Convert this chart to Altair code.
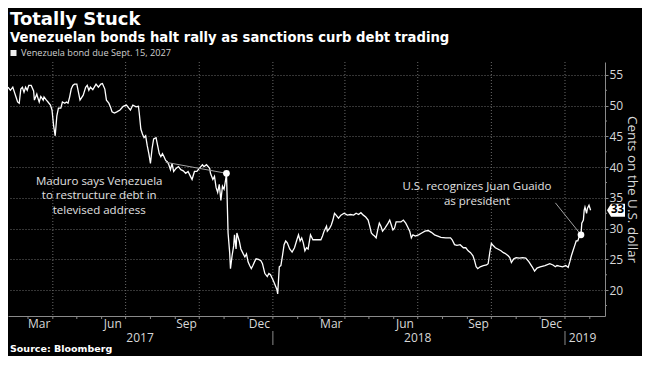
import altair as alt
import pandas as pd

# ---------------- data ----------------
dates = [
    "2017-02-04", "2017-02-07", "2017-02-10", "2017-02-12", "2017-02-14", "2017-02-16", "2017-02-18",
    "2017-02-20", "2017-02-22", "2017-02-24", "2017-02-26", "2017-02-28", "2017-03-02", "2017-03-05",
    "2017-03-08", "2017-03-09", "2017-03-12", "2017-03-13", "2017-03-15", "2017-03-17", "2017-03-20",
    "2017-03-21", "2017-03-24", "2017-03-26", "2017-03-29", "2017-03-31", "2017-04-02", "2017-04-04",
    "2017-04-06", "2017-04-08", "2017-04-11", "2017-04-13", "2017-04-16", "2017-04-18", "2017-04-20",
    "2017-04-22", "2017-04-24", "2017-04-26", "2017-04-28", "2017-05-01", "2017-05-03", "2017-05-05",
    "2017-05-07", "2017-05-09", "2017-05-12", "2017-05-14", "2017-05-16", "2017-05-18", "2017-05-21",
    "2017-05-25", "2017-05-28", "2017-05-31", "2017-06-02", "2017-06-05", "2017-06-07", "2017-06-10",
    "2017-06-12", "2017-06-14", "2017-06-17", "2017-06-20", "2017-06-24", "2017-06-28", "2017-07-02",
    "2017-07-05", "2017-07-07", "2017-07-10", "2017-07-14", "2017-07-17", "2017-07-18", "2017-07-20",
    "2017-07-22", "2017-07-24", "2017-07-26", "2017-07-28", "2017-07-30", "2017-08-01", "2017-08-03",
    "2017-08-05", "2017-08-08", "2017-08-10", "2017-08-12", "2017-08-14", "2017-08-16", "2017-08-18",
    "2017-08-20", "2017-08-22", "2017-08-24", "2017-08-26", "2017-08-28", "2017-08-30", "2017-09-02",
    "2017-09-05", "2017-09-08", "2017-09-11", "2017-09-14", "2017-09-17", "2017-09-20", "2017-09-22",
    "2017-09-25", "2017-09-28", "2017-10-01", "2017-10-05", "2017-10-07", "2017-10-10", "2017-10-14",
    "2017-10-15", "2017-10-18", "2017-10-20", "2017-10-22", "2017-10-24", "2017-10-26", "2017-10-28",
    "2017-10-30", "2017-11-01", "2017-11-03", "2017-11-04", "2017-11-06", "2017-11-08", "2017-11-09",
    "2017-11-11", "2017-11-13", "2017-11-14", "2017-11-16", "2017-11-17", "2017-11-20", "2017-11-22",
    "2017-11-25", "2017-11-27", "2017-11-29", "2017-12-01", "2017-12-03", "2017-12-05", "2017-12-07",
    "2017-12-09", "2017-12-11", "2017-12-14", "2017-12-17", "2017-12-19", "2017-12-22", "2017-12-25",
    "2017-12-27", "2017-12-29", "2018-01-01", "2018-01-03", "2018-01-06", "2018-01-07", "2018-01-09",
    "2018-01-11", "2018-01-13", "2018-01-15", "2018-01-17", "2018-01-19", "2018-01-22", "2018-01-25",
    "2018-01-28", "2018-01-31", "2018-02-02", "2018-02-04", "2018-02-06", "2018-02-08", "2018-02-10",
    "2018-02-12", "2018-02-14", "2018-02-17", "2018-02-20", "2018-02-22", "2018-02-26", "2018-03-02",
    "2018-03-04", "2018-03-06", "2018-03-09", "2018-03-10", "2018-03-13", "2018-03-15", "2018-03-17",
    "2018-03-19", "2018-03-21", "2018-03-24", "2018-03-27", "2018-03-31", "2018-04-04", "2018-04-08",
    "2018-04-12", "2018-04-15", "2018-04-18", "2018-04-21", "2018-04-24", "2018-04-27", "2018-04-30",
    "2018-05-02", "2018-05-04", "2018-05-06", "2018-05-08", "2018-05-10", "2018-05-12", "2018-05-14",
    "2018-05-16", "2018-05-18", "2018-05-21", "2018-05-25", "2018-05-27", "2018-05-29", "2018-05-31",
    "2018-06-02", "2018-06-04", "2018-06-06", "2018-06-10", "2018-06-13", "2018-06-16", "2018-06-18",
    "2018-06-21", "2018-06-23", "2018-06-25", "2018-06-28", "2018-07-02", "2018-07-06", "2018-07-10",
    "2018-07-14", "2018-07-18", "2018-07-22", "2018-07-26", "2018-07-30", "2018-08-05", "2018-08-11",
    "2018-08-13", "2018-08-16", "2018-08-19", "2018-08-23", "2018-08-27", "2018-08-30", "2018-09-02",
    "2018-09-05", "2018-09-08", "2018-09-10", "2018-09-12", "2018-09-14", "2018-09-17", "2018-09-21",
    "2018-09-25", "2018-09-27", "2018-09-29", "2018-10-01", "2018-10-03", "2018-10-06", "2018-10-09",
    "2018-10-13", "2018-10-16", "2018-10-18", "2018-10-22", "2018-10-24", "2018-10-26", "2018-10-29",
    "2018-11-01", "2018-11-05", "2018-11-09", "2018-11-13", "2018-11-17", "2018-11-21", "2018-11-24",
    "2018-11-27", "2018-12-01", "2018-12-07", "2018-12-13", "2018-12-17", "2018-12-20", "2018-12-22",
    "2018-12-25", "2018-12-29", "2019-01-02", "2019-01-05", "2019-01-07", "2019-01-09", "2019-01-11",
    "2019-01-13", "2019-01-15", "2019-01-17", "2019-01-19", "2019-01-21", "2019-01-22", "2019-01-24",
    "2019-01-25", "2019-01-26", "2019-01-28", "2019-01-29", "2019-01-31", "2019-02-02",
]
values = [
    53.0, 52.5, 53.0, 52.2, 51.4, 50.6, 50.4,
    52.7, 53.0, 52.2, 53.0, 52.5, 53.3, 53.3,
    52.4, 50.9, 51.9, 51.4, 50.6, 51.5, 50.9,
    51.4, 50.9, 50.6, 50.1, 49.3, 46.7, 45.1,
    48.3, 49.6, 49.6, 50.6, 50.4, 50.6, 50.4,
    51.4, 52.7, 53.3, 53.5, 53.5, 52.2, 50.9,
    51.3, 51.7, 53.0, 53.3, 52.5, 53.0, 52.6,
    53.5, 53.0, 53.5, 53.6, 52.7, 50.9, 50.4,
    49.8, 49.0, 48.8, 49.0, 49.3, 49.9, 50.1,
    49.6, 49.3, 50.1, 49.8, 49.9, 48.8, 46.2,
    45.4, 44.8, 45.1, 43.5, 42.2, 40.6, 43.0,
    44.6, 44.8, 43.5, 42.2, 41.7, 42.2, 41.7,
    41.1, 40.9, 40.4, 39.6, 40.6, 39.3, 39.8,
    40.1, 39.6, 39.4, 39.0, 39.3, 38.5, 38.0,
    39.3, 39.3, 39.8, 40.4, 40.1, 40.4, 39.8,
    39.0, 38.0, 38.5, 36.7, 35.9, 37.2, 34.6,
    36.9, 36.4, 38.0, 39.0, 29.3, 26.1, 23.5,
    25.6, 27.2, 29.0, 26.7, 29.3, 28.0, 26.7,
    25.9, 25.4, 25.9, 24.6, 24.0, 23.5, 24.0,
    24.6, 25.1, 25.0, 24.8, 24.3, 22.7, 22.2,
    22.7, 22.5, 21.7, 21.1, 20.1, 19.4, 23.8,
    24.0, 25.6, 27.4, 28.0, 27.7, 26.7, 26.2,
    26.9, 28.2, 29.0, 28.0, 28.5, 27.7, 26.4,
    26.9, 26.7, 29.0, 28.2, 28.2, 28.2, 28.2,
    28.8, 29.6, 30.4, 29.6, 30.1, 30.6, 31.4,
    32.5, 32.2, 31.7, 32.2, 32.5, 32.2, 32.3,
    32.2, 32.5, 32.3, 32.6, 32.2, 31.9, 31.4,
    30.4, 29.3, 29.0, 28.8, 28.5, 29.8, 30.9,
    30.4, 29.6, 30.1, 30.9, 31.4, 30.6, 29.8,
    30.1, 31.1, 31.1, 31.1, 31.4, 30.9, 30.4,
    29.6, 28.5, 29.0, 28.8, 29.0, 29.3, 29.6,
    29.7, 29.4, 29.0, 28.8, 28.6, 28.5, 28.5,
    28.2, 27.4, 27.3, 27.4, 26.9, 26.9, 26.4,
    26.1, 25.6, 24.8, 23.8, 23.5, 23.8, 24.0,
    24.1, 24.3, 26.1, 27.6, 27.3, 26.9, 26.7,
    26.4, 26.1, 26.0, 25.6, 25.3, 24.5, 25.1,
    25.3, 25.2, 25.3, 25.2, 24.6, 23.8, 23.1,
    23.6, 23.8, 24.0, 24.3, 24.1, 23.8, 24.0,
    23.9, 23.8, 24.0, 23.7, 24.6, 25.6, 26.4,
    27.2, 28.0, 28.0, 28.8, 29.0, 30.9, 31.4,
    33.0, 33.5, 32.5, 33.3, 33.8, 33.0,
]

series_label = "Venezuela bond due Sept. 15, 2027"
title_text = "Totally Stuck"
subtitle_text = "Venezuelan bonds halt rally as sanctions curb debt trading"
source_text = "Source: Bloomberg"
y_title = "Cents on the U.S. dollar"

event_dates = ["2017-11-04", "2019-01-21"]
event_values = [39.0, 29.0]
note_texts = ["Maduro says Venezuela\nto restructure debt in\ntelevised address",
              "U.S. recognizes Juan Guaido\nas president"]
note_dates = ["2017-05-29", "2018-09-13"]
note_values = [37.6, 36.7]
leader_dates = ["2017-08-20", "2018-12-20"]
leader_values = [40.8, 34.2]

month_labels = ["Mar", "Jun", "Sep", "Dec", "Mar", "Jun", "Sep", "Dec"]
month_label_dates = ["2017-03-15", "2017-06-15", "2017-09-15", "2017-12-15",
                     "2018-03-15", "2018-06-15", "2018-09-15", "2018-12-15"]
quarter_starts = ["2017-04-01", "2017-07-01", "2017-10-01", "2018-01-01",
                  "2018-04-01", "2018-07-01", "2018-10-01", "2019-01-01"]
month_starts = ["2017-03-01", "2017-04-01", "2017-05-01", "2017-06-01", "2017-07-01", "2017-08-01",
                "2017-09-01", "2017-10-01", "2017-11-01", "2017-12-01", "2018-01-01", "2018-02-01",
                "2018-03-01", "2018-04-01", "2018-05-01", "2018-06-01", "2018-07-01", "2018-08-01",
                "2018-09-01", "2018-10-01", "2018-11-01", "2018-12-01", "2019-01-01", "2019-02-01"]
year_labels = ["2017", "2018", "2019"]
year_label_dates = ["2017-07-19", "2018-07-01", "2019-01-23"]
year_breaks = ["2018-01-01", "2019-01-01"]

y_major = [20, 25, 30, 35, 40, 45, 50, 55]
y_minor = [17.5, 22.5, 27.5, 32.5, 37.5, 42.5, 47.5, 52.5]

# ---------------- layout / style ----------------
W, H = 597, 254
BODY = "Open Sans"
BOLD = "DejaVu Sans"
AXC = "#8a8a8a"
LAB = "#d8d8d8"
GRID = "#6a6a6a"

x_scale = alt.Scale(domain=[alt.DateTime(year=2017, month=2, date=4),
                            alt.DateTime(year=2019, month=2, date=20)], nice=False)
y_scale = alt.Scale(domain=[15.8, 57.1], nice=False, zero=False)

x_axis = alt.Axis(grid=False, ticks=False, labels=False, domain=True,
                  domainColor=AXC, title=None)
y_axis = alt.Axis(
    orient="right", values=y_major,
    labelFont=BODY, labelFontSize=12, labelColor=LAB, labelPadding=1,
    tickSize=3, tickColor=AXC, domainColor=AXC,
    grid=True, gridColor=GRID, gridDash=[1, 2],
    title=y_title, titleAngle=90, titleFont=BODY, titleFontSize=13.5,
    titleFontWeight="normal", titleColor=LAB, titlePadding=2,
)


def T(lst):
    return pd.to_datetime(lst)


df = pd.DataFrame({"date": T(dates), "value": values})
ev = pd.DataFrame({"date": T(event_dates), "value": event_values,
                   "ldate": T(leader_dates), "lvalue": leader_values})
notes = pd.DataFrame({"date": T(note_dates), "value": note_values, "text": note_texts})
months = pd.DataFrame({"date": T(month_label_dates), "text": month_labels})
quarters = pd.DataFrame({"date": T(quarter_starts)})
mticks = pd.DataFrame({"date": T(month_starts)})
years = pd.DataFrame({"date": T(year_label_dates), "text": year_labels})
breaks = pd.DataFrame({"date": T(year_breaks)})
minor = pd.DataFrame({"value": y_minor})
last = pd.DataFrame({"date": [df["date"].iloc[-1]], "value": [values[-1]],
                     "text": [str(int(round(values[-1])))]})


# every layer uses the same scale and the same axis object, so the shared axes merge cleanly
def X(field="date"):
    return alt.X(f"{field}:T", scale=x_scale, axis=x_axis)


def Y(field="value"):
    return alt.Y(f"{field}:Q", scale=y_scale, axis=y_axis)


line = alt.Chart(df).mark_line(color="white", strokeWidth=1.3).encode(x=X(), y=Y())

vgrid = alt.Chart(quarters).mark_rule(color=GRID, strokeDash=[1, 2], strokeWidth=1).encode(x=X())

minor_ticks = alt.Chart(minor).mark_rule(color=AXC, strokeWidth=1).encode(
    y=Y(), x=alt.value(W), x2=alt.value(W + 2))

month_ticks = alt.Chart(mticks).mark_rule(color=AXC, strokeWidth=1).encode(
    x=X(), y=alt.value(H), y2=alt.value(H + 3))

month_text = alt.Chart(months).mark_text(
    align="center", baseline="middle", font=BODY, fontSize=12, color=LAB).encode(
    x=X(), y=alt.value(H + 8), text="text:N")

leaders = alt.Chart(ev).mark_rule(color="#a0a0a0", strokeWidth=1).encode(
    x=X("ldate"), x2="date:T", y=Y("lvalue"), y2="value:Q")

dots = alt.Chart(ev).mark_circle(size=45, color="white", opacity=1).encode(x=X(), y=Y())

note_layer = alt.Chart(notes).mark_text(
    align="center", baseline="middle", lineBreak="\n", lineHeight=14.5,
    font=BODY, fontSize=11.5, color="#e0e0e0").encode(x=X(), y=Y(), text="text:N")

year_rules = alt.Chart(breaks).mark_rule(color=AXC, strokeWidth=1).encode(
    x=X(), y=alt.value(H + 15), y2=alt.value(H + 29))

year_text = alt.Chart(years).mark_text(
    align="center", baseline="middle", font=BODY, fontSize=12, color=LAB).encode(
    x=X(), y=alt.value(H + 22), text="text:N")

tag_shape = "M-1,0L-0.55,-0.72L1,-0.72L1,0.72L-0.55,0.72Z"
tag = alt.Chart(last).mark_point(shape=tag_shape, filled=True, size=324, color="white",
                                 opacity=1, strokeWidth=0).encode(
    x=alt.value(W + 11), y=Y())
tag_text = alt.Chart(last).mark_text(
    align="center", baseline="middle", font=BODY, fontSize=11.5, fontWeight="bold",
    color="black").encode(x=alt.value(W + 12.5), y=Y(), text="text:N")

legend_df = pd.DataFrame({"text": [series_label]})
legend_sq = alt.Chart(legend_df).mark_square(size=36, color="#f0f0f0", opacity=1).encode(
    x=alt.value(5.5), y=alt.value(-9))
legend_tx = alt.Chart(legend_df).mark_text(
    align="left", baseline="middle", font=BODY, fontSize=9.2, color="#d0d0d0").encode(
    x=alt.value(13), y=alt.value(-9), text="text:N")

source_df = pd.DataFrame({"text": [source_text]})
source = alt.Chart(source_df).mark_text(
    align="left", baseline="middle", font=BOLD, fontSize=9.5, fontWeight="bold",
    color="white").encode(x=alt.value(2), y=alt.value(H + 33), text="text:N")

chart = alt.layer(
    vgrid, line, minor_ticks, month_ticks, month_text, leaders, dots, note_layer,
    year_rules, year_text, tag, tag_text, legend_sq, legend_tx, source,
).properties(
    width=W, height=H,
    autosize=alt.AutoSizeParams(type="none"),
    padding={"left": 0, "top": 54, "right": 37, "bottom": 40},
    title=alt.TitleParams(
        text=title_text, subtitle=[subtitle_text], anchor="start", frame="group",
        font=BOLD, fontSize=18, fontWeight="bold", color="white",
        subtitleFont=BOLD, subtitleFontSize=13.2, subtitleFontWeight="bold",
        subtitleColor="white", subtitlePadding=3, offset=5, dx=2,
    ),
).configure(background="black").configure_view(stroke=None)

chart.save("out.html", embed_options={"renderer": "svg", "actions": False})
